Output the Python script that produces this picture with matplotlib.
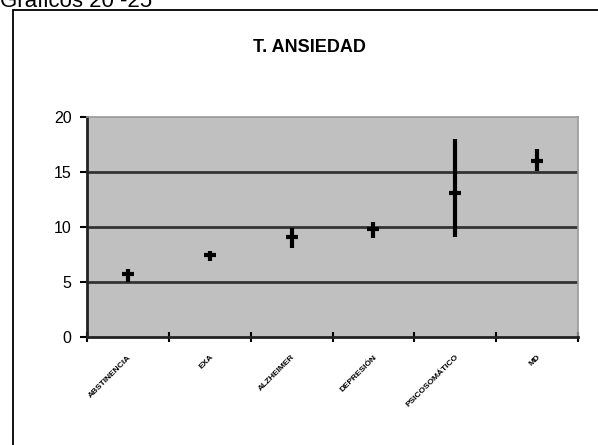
import matplotlib
matplotlib.use("Agg")
import matplotlib.pyplot as plt
from matplotlib.patches import Rectangle

plt.rcParams['font.family'] = ['Liberation Sans', 'DejaVu Sans']

categories = ["ABSTINENCIA", "EXA", "ALZHEIMER", "DEPRESIÓN", "PSICOSOMÁTICO", "MD"]
means = [5.7, 7.45, 9.1, 9.8, 13.1, 16.0]
highs = [6.2, 7.8, 9.9, 10.45, 18.0, 17.1]
lows = [5.0, 6.9, 8.1, 9.0, 9.1, 15.1]
y_ticks = [0, 5, 10, 15, 20]

fig = plt.figure(figsize=(5.98, 4.45), dpi=100)

# outer chart frame (open at the bottom and right, continuing past the page)
fig.patches.append(Rectangle((13 / 598, -0.2), 1.2, 1.2 - 10 / 445, transform=fig.transFigure,
                             fill=False, edgecolor='black', linewidth=1.3, zorder=0))
fig.text(0.0, 1 - 7 / 445, "Graficos 20 -25", fontsize=16, va='baseline', ha='left')

ax = fig.add_axes([87 / 598, 108 / 445, 491 / 598, 220 / 445])
ax.set_facecolor('#C0C0C0')

x = list(range(len(categories)))
ax.vlines(x, lows, highs, color='black', linewidth=3, zorder=3)
ax.plot(x, means, linestyle='none', marker='_', markersize=9, markeredgewidth=3,
        color='black', zorder=4)

ax.set_xlim(-0.5, len(categories) - 0.5)
ax.set_ylim(0, 20)
ax.set_yticks(y_ticks)
ax.set_yticklabels([str(v) for v in y_ticks], fontsize=11.5)
for v in y_ticks[1:-1]:
    ax.axhline(v, color='#333333', linewidth=2, zorder=2)

ax.set_xticks([i - 0.5 for i in range(len(categories) + 1)], minor=False)
ax.set_xticklabels([])
ax.set_xticks(x, minor=True)
ax.set_xticklabels(categories, minor=True, rotation=45, ha='right',
                   rotation_mode='anchor', fontsize=6, fontweight='bold')
ax.tick_params(axis='x', which='minor', length=0, pad=12)
ax.tick_params(axis='x', which='major', direction='inout', length=7, width=1.5)
ax.tick_params(axis='y', direction='out', length=5, width=1.5, pad=6)

for side in ['top', 'right']:
    ax.spines[side].set_color('#999999')
    ax.spines[side].set_linewidth(1.2)
for side in ['left', 'bottom']:
    ax.spines[side].set_color('#222222')
    ax.spines[side].set_linewidth(2)

fig.text(309 / 598, 1 - 47 / 445, "T. ANSIEDAD", fontsize=13, fontweight='bold',
         ha='center', va='center')

fig.savefig("out.png", dpi=100)
